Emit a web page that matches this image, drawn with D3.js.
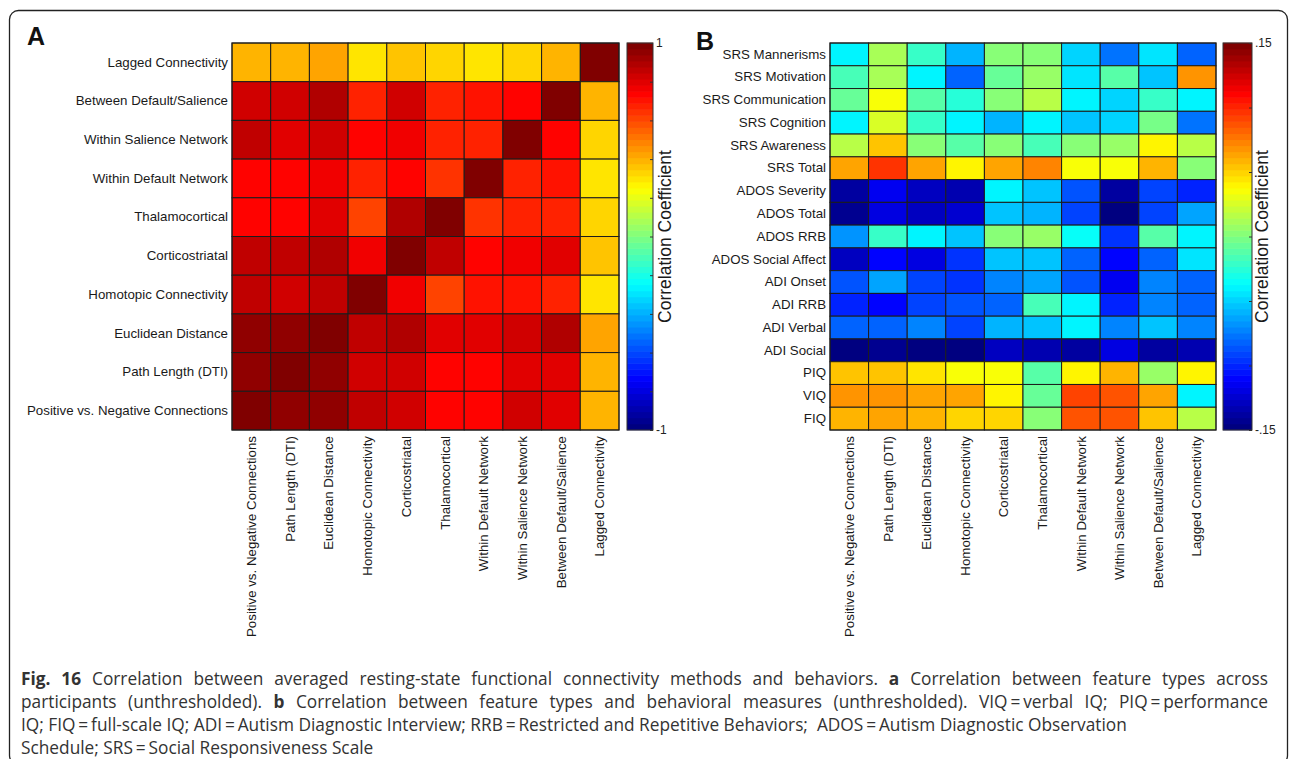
<!DOCTYPE html>
<html>
<head>
<meta charset="utf-8">
<script src="https://cdn.jsdelivr.net/npm/d3@7"></script>
<style>
  html, body { margin: 0; padding: 0; background: #fff; }
  svg { display: block; }
</style>
</head>
<body>
<svg id="fig" width="1290" height="759"></svg>
<script>
// Connectivity feature types (columns of both panels, bottom-to-top rows of panel A)
const features = [
  "Positive vs. Negative Connections",
  "Path Length (DTI)",
  "Euclidean Distance",
  "Homotopic Connectivity",
  "Corticostriatal",
  "Thalamocortical",
  "Within Default Network",
  "Within Salience Network",
  "Between Default/Salience",
  "Lagged Connectivity"
];

// Behavioral measures, top to bottom in panel B
const behaviors = [
  "SRS Mannerisms", "SRS Motivation", "SRS Communication", "SRS Cognition",
  "SRS Awareness", "SRS Total", "ADOS Severity", "ADOS Total", "ADOS RRB",
  "ADOS Social Affect", "ADI Onset", "ADI RRB", "ADI Verbal", "ADI Social",
  "PIQ", "VIQ", "FIQ"
];

// Panel A: correlation between feature types; row i / column j follow `features`
const featureCorr = [
  [1.00, 0.96, 0.96, 0.85, 0.84, 0.73, 0.72, 0.84, 0.80, 0.38],
  [0.96, 1.00, 0.95, 0.82, 0.83, 0.74, 0.73, 0.80, 0.80, 0.39],
  [0.96, 0.95, 1.00, 0.85, 0.88, 0.80, 0.80, 0.83, 0.90, 0.42],
  [0.86, 0.82, 0.85, 1.00, 0.76, 0.62, 0.69, 0.71, 0.66, 0.29],
  [0.85, 0.86, 0.89, 0.76, 1.00, 0.86, 0.72, 0.75, 0.79, 0.35],
  [0.72, 0.74, 0.79, 0.61, 0.88, 1.00, 0.64, 0.66, 0.67, 0.32],
  [0.73, 0.74, 0.78, 0.68, 0.74, 0.64, 1.00, 0.66, 0.71, 0.29],
  [0.86, 0.80, 0.84, 0.72, 0.77, 0.67, 0.66, 1.00, 0.74, 0.32],
  [0.84, 0.83, 0.90, 0.67, 0.82, 0.67, 0.71, 0.74, 1.00, 0.39],
  [0.38, 0.38, 0.42, 0.29, 0.35, 0.32, 0.29, 0.32, 0.39, 1.00]
];

// Panel B: correlation between feature types (columns) and behaviors (rows)
const behaviorCorr = [
  [-0.038,  0.012, -0.020, -0.060,  0.000,  0.000, -0.047, -0.078, -0.045, -0.080],
  [-0.016,  0.010, -0.040, -0.083, -0.006,  0.006, -0.045, -0.012, -0.052,  0.068],
  [-0.007,  0.033, -0.010, -0.027,  0.000,  0.018, -0.040, -0.047, -0.020, -0.040],
  [-0.038,  0.027, -0.020, -0.039, -0.060, -0.042, -0.052, -0.050, -0.002, -0.078],
  [ 0.018,  0.056,  0.003, -0.013,  0.000, -0.015,  0.000,  0.008,  0.040,  0.018],
  [ 0.063,  0.095,  0.064,  0.040,  0.063,  0.071,  0.035,  0.035,  0.060,  0.003],
  [-0.138, -0.115, -0.128, -0.133, -0.042, -0.052, -0.087, -0.138, -0.093, -0.100],
  [-0.143, -0.118, -0.128, -0.125, -0.056, -0.060, -0.090, -0.149, -0.093, -0.062],
  [-0.068, -0.020, -0.039, -0.052,  0.000,  0.005, -0.035, -0.096, -0.010, -0.039],
  [-0.128, -0.110, -0.120, -0.098, -0.056, -0.056, -0.080, -0.108, -0.080, -0.045],
  [-0.087, -0.065, -0.090, -0.098, -0.075, -0.062, -0.087, -0.115, -0.072, -0.083],
  [-0.100, -0.112, -0.093, -0.087, -0.083, -0.015, -0.040, -0.100, -0.075, -0.080],
  [-0.083, -0.083, -0.075, -0.093, -0.060, -0.056, -0.042, -0.075, -0.056, -0.075],
  [-0.146, -0.143, -0.146, -0.146, -0.131, -0.133, -0.140, -0.120, -0.138, -0.133],
  [ 0.052,  0.052,  0.046,  0.036,  0.035, -0.010,  0.040,  0.058,  0.005,  0.040],
  [ 0.070,  0.070,  0.065,  0.065,  0.040, -0.005,  0.092,  0.089,  0.062, -0.040],
  [ 0.060,  0.062,  0.060,  0.050,  0.047,  0.000,  0.089,  0.085,  0.052,  0.018]
];

// Colour-bar ranges, ticks and labels
const rangeA = [-1, 1];
const ticksA = [-1, -0.8, -0.6, -0.4, -0.2, 0, 0.2, 0.4, 0.6, 0.8, 1];
const tickLabelsA = { "-1": "-1", "1": "1" };
const rangeB = [-0.15, 0.15];
const ticksB = [-0.15, -0.1, -0.05, 0, 0.05, 0.1, 0.15];
const tickLabelsB = { "-0.15": "-.15", "0.15": ".15" };

// Caption lines: [text, bold]; thin spaces sit around "="; the first two lines are justified
const captionLines = [
  [["Fig. 16", true], [" Correlation between averaged resting-state functional connectivity methods and behaviors. ", false], ["a", true], [" Correlation between feature types across", false]],
  [["participants (unthresholded). ", false], ["b", true], [" Correlation between feature types and behavioral measures (unthresholded). VIQ\u2009=\u2009verbal IQ; PIQ\u2009=\u2009performance", false]],
  [["IQ; FIQ\u2009=\u2009full-scale IQ; ADI\u2009=\u2009Autism Diagnostic Interview; RRB\u2009=\u2009Restricted and Repetitive Behaviors;  ADOS\u2009=\u2009Autism Diagnostic Observation", false]],
  [["Schedule; SRS\u2009=\u2009Social Responsiveness Scale", false]]
];
const captionJustify = [true, true, false, false];

// 64-level jet colormap
function jet(t) {
  t = Math.max(0, Math.min(1, t));
  t = Math.min(63, Math.floor(t * 64)) / 63;
  const c = v => Math.max(0, Math.min(1, v));
  const r = c(Math.min(4 * t - 1.5, -4 * t + 4.5));
  const g = c(Math.min(4 * t - 0.5, -4 * t + 3.5));
  const b = c(Math.min(4 * t + 0.5, -4 * t + 2.5));
  return d3.rgb(r * 255, g * 255, b * 255).toString();
}

const svg = d3.select("#fig");
const labelFont = "'Liberation Sans', Arial, sans-serif";
const labelSize = 13.3;

// outer frame (its lower edge runs just past the bottom of the page)
svg.append("rect")
  .attr("x", 9.5).attr("y", 10.5).attr("width", 1278).attr("height", 754)
  .attr("rx", 9).attr("fill", "none").attr("stroke", "#222").attr("stroke-width", 1.3);

function heatmap(opts) {
  const { rows, cols, range, box, ticks, tickLabels, bar } = opts;
  const color = d3.scaleSequential(jet).domain(range);
  const x = d3.scaleBand().domain(cols).range([box.x0, box.x1]);
  const y = d3.scaleBand().domain(rows.map(r => r.name)).range([box.y0, box.y1]);

  const g = svg.append("g");
  const cells = [];
  rows.forEach(r => cols.forEach((c, j) => cells.push({ row: r.name, col: c, v: r.values[j] })));

  g.selectAll("rect.cell").data(cells).join("rect")
    .attr("class", "cell")
    .attr("x", d => x(d.col)).attr("y", d => y(d.row))
    .attr("width", x.bandwidth()).attr("height", y.bandwidth())
    .attr("fill", d => color(d.v))
    .attr("stroke", "#1c1c1c").attr("stroke-width", 1);

  g.append("rect")
    .attr("x", box.x0).attr("y", box.y0)
    .attr("width", box.x1 - box.x0).attr("height", box.y1 - box.y0)
    .attr("fill", "none").attr("stroke", "#1c1c1c").attr("stroke-width", 1);

  // row labels
  const ya = g.append("g").attr("transform", `translate(${box.x0},0)`)
    .call(d3.axisLeft(y).tickSize(0).tickPadding(4));
  ya.select(".domain").remove();
  ya.selectAll("text").attr("font-family", labelFont).attr("font-size", labelSize).attr("fill", "#1a1a1a");

  // column labels, rotated
  const xa = g.append("g").attr("transform", `translate(0,${box.y1})`)
    .call(d3.axisBottom(x).tickSize(0));
  xa.select(".domain").remove();
  xa.selectAll("text")
    .attr("font-family", labelFont).attr("font-size", labelSize).attr("fill", "#1a1a1a")
    .attr("transform", "rotate(-90)")
    .attr("x", -6).attr("y", 0).attr("dy", "0.35em")
    .style("text-anchor", "end");

  // colour bar
  const cy = d3.scaleLinear().domain(range).range([box.y1, box.y0]);
  const steps = d3.range(64).map(i => range[0] + (range[1] - range[0]) * (i + 0.5) / 64);
  const stepH = (box.y1 - box.y0) / 64;
  const cb = svg.append("g");
  cb.selectAll("rect.step").data(steps).join("rect")
    .attr("class", "step")
    .attr("x", bar.x0).attr("width", bar.x1 - bar.x0)
    .attr("y", d => cy(d) - stepH / 2 - 0.3).attr("height", stepH + 0.6)
    .attr("fill", d => color(d));
  cb.append("rect")
    .attr("x", bar.x0).attr("y", box.y0)
    .attr("width", bar.x1 - bar.x0).attr("height", box.y1 - box.y0)
    .attr("fill", "none").attr("stroke", "#333").attr("stroke-width", 1);
  const ca = cb.append("g").attr("transform", `translate(${bar.x1},0)`)
    .call(d3.axisRight(cy).tickValues(ticks).tickSize(-3).tickPadding(3)
      .tickFormat(d => tickLabels[String(+d.toFixed(2))] || ""));
  ca.select(".domain").remove();
  ca.selectAll("line").attr("stroke", "#333");
  ca.selectAll("text").attr("font-family", labelFont).attr("font-size", 12).attr("fill", "#222");

  svg.append("text")
    .attr("transform", `translate(${bar.labelX},${(box.y0 + box.y1) / 2}) rotate(-90)`)
    .attr("text-anchor", "middle")
    .attr("font-family", labelFont).attr("font-size", 17.5).attr("fill", "#1a1a1a")
    .text("Correlation Coefficient");
}

// Panel A: rows run from Lagged Connectivity (top) down to Positive vs. Negative
heatmap({
  rows: features.map((f, i) => ({ name: f, values: featureCorr[i] })).reverse(),
  cols: features,
  range: rangeA,
  box: { x0: 232, x1: 619, y0: 43, y1: 430 },
  ticks: ticksA, tickLabels: tickLabelsA,
  bar: { x0: 627, x1: 653, labelX: 671 }
});

// Panel B
heatmap({
  rows: behaviors.map((b, i) => ({ name: b, values: behaviorCorr[i] })),
  cols: features,
  range: rangeB,
  box: { x0: 830, x1: 1216, y0: 43, y1: 430 },
  ticks: ticksB, tickLabels: tickLabelsB,
  bar: { x0: 1223, x1: 1252, labelX: 1268 }
});

// panel letters
svg.append("text").attr("x", 27).attr("y", 45)
  .attr("font-family", labelFont).attr("font-weight", "bold").attr("font-size", 25).attr("fill", "#111").text("A");
svg.append("text").attr("x", 696).attr("y", 50)
  .attr("font-family", labelFont).attr("font-weight", "bold").attr("font-size", 25).attr("fill", "#111").text("B");

// caption
const cap = svg.append("g");
const capX = 21, capRight = 1268;
const capY = [685, 708, 731, 754];
captionLines.forEach((parts, i) => {
  const t = cap.append("text")
    .attr("x", capX).attr("y", capY[i])
    .attr("font-family", "'Open Sans', sans-serif").attr("font-size", 17.3)
    .attr("fill", "#333")
    .attr("xml:space", "preserve");
  parts.forEach(([s, bold]) => {
    t.append("tspan").attr("font-weight", bold ? "bold" : "normal").text(s);
  });
  if (captionJustify[i]) {
    const natural = t.node().getComputedTextLength();
    const spaces = parts.map(p => p[0]).join("").split(" ").length - 1;
    const extra = (capRight - capX - natural) / spaces;
    if (extra > 0) t.attr("word-spacing", extra);
  }
});
</script>
</body>
</html>
